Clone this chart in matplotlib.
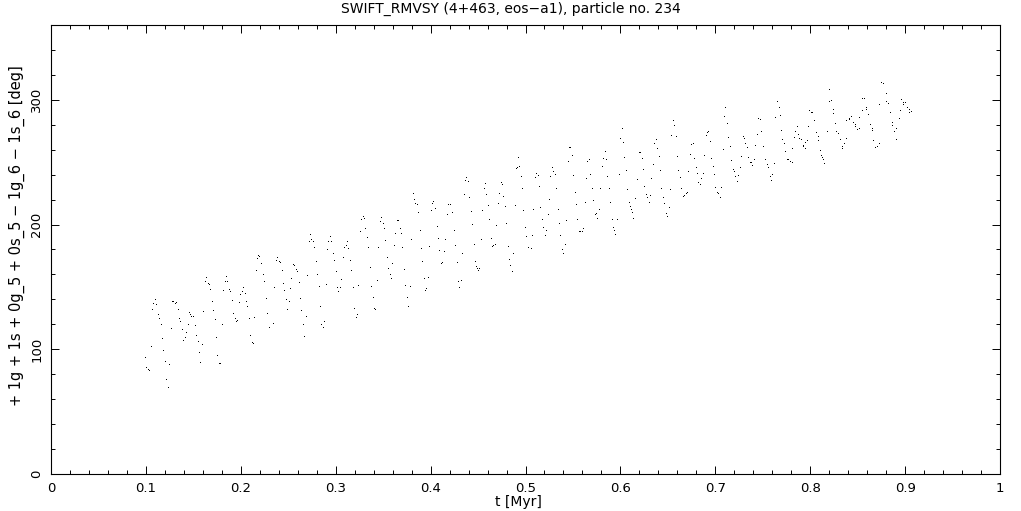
import matplotlib

matplotlib.use("Agg")
import matplotlib.pyplot as plt
from matplotlib.ticker import MultipleLocator

TITLE = "SWIFT_RMVSY (4+463, eos\u2212a1), particle no. 234"
X_LABEL = "t [Myr]"
Y_LABEL = "+ 1g + 1s + 0g_5 + 0s_5 \u2212 1g_6 \u2212 1s_6 [deg]"

X_TICKS = [0, 0.1, 0.2, 0.3, 0.4, 0.5, 0.6, 0.7, 0.8, 0.9, 1.0]
X_TICK_LABELS = ["0", "0.1", "0.2", "0.3", "0.4", "0.5", "0.6", "0.7", "0.8", "0.9", "1"]
Y_TICKS = [0, 100, 200, 300]
Y_TICK_LABELS = ["0", "100", "200", "300"]

# time [Myr] and resonant angle [deg]
t_myr = [
    0.0988, 0.1002, 0.1019, 0.1030, 0.1055, 0.1065, 0.1076, 0.1097, 0.1107, 0.1128,
    0.1139, 0.1160, 0.1171, 0.1181, 0.1202, 0.1213, 0.1234, 0.1244, 0.1265, 0.1276,
    0.1290, 0.1308, 0.1318, 0.1339, 0.1350, 0.1360, 0.1381, 0.1392, 0.1413, 0.1424,
    0.1445, 0.1455, 0.1466, 0.1480, 0.1497, 0.1518, 0.1529, 0.1550, 0.1561, 0.1571,
    0.1592, 0.1603, 0.1624, 0.1638, 0.1656, 0.1666, 0.1677, 0.1698, 0.1708, 0.1729,
    0.1740, 0.1750, 0.1772, 0.1782, 0.1803, 0.1814, 0.1835, 0.1845, 0.1856, 0.1877,
    0.1888, 0.1909, 0.1919, 0.1940, 0.1951, 0.1961, 0.1982, 0.1993, 0.2014, 0.2025,
    0.2046, 0.2056, 0.2067, 0.2088, 0.2098, 0.2120, 0.2130, 0.2141, 0.2162, 0.2172,
    0.2183, 0.2193, 0.2214, 0.2236, 0.2246, 0.2267, 0.2278, 0.2299,
    0.2341, 0.2351, 0.2372, 0.2383, 0.2404, 0.2415, 0.2436, 0.2446, 0.2457, 0.2478,
    0.2488, 0.2510, 0.2520, 0.2531, 0.2552, 0.2562, 0.2583, 0.2594, 0.2615, 0.2626,
    0.2636, 0.2657, 0.2668, 0.2689, 0.2699, 0.2720, 0.2731, 0.2741, 0.2763, 0.2773,
    0.2794, 0.2805, 0.2826, 0.2836, 0.2847, 0.2868, 0.2879, 0.2900, 0.2910, 0.2921,
    0.2942, 0.2952, 0.2973, 0.2984, 0.3005, 0.3016, 0.3026, 0.3047, 0.3058, 0.3079,
    0.3089, 0.3110, 0.3121, 0.3132, 0.3153, 0.3163, 0.3184, 0.3195, 0.3216, 0.3226,
    0.3237, 0.3258, 0.3269, 0.3290, 0.3300, 0.3311, 0.3332, 0.3342, 0.3363, 0.3374,
    0.3395, 0.3406, 0.3416, 0.3437, 0.3448, 0.3469, 0.3479, 0.3500, 0.3511, 0.3522,
    0.3543, 0.3553, 0.3574, 0.3585, 0.3595, 0.3617,
    0.3627, 0.3648, 0.3659, 0.3680, 0.3690, 0.3701, 0.3722, 0.3733, 0.3754, 0.3764,
    0.3785, 0.3796, 0.3817, 0.3828, 0.3838, 0.3859, 0.3870, 0.3891, 0.3901, 0.3912,
    0.3933, 0.3944, 0.3954, 0.3975, 0.3986, 0.4007, 0.4017, 0.4028, 0.4049, 0.4070,
    0.4081, 0.4091, 0.4112, 0.4123, 0.4144, 0.4154, 0.4175, 0.4186, 0.4207, 0.4228,
    0.4249, 0.4260, 0.4281, 0.4291, 0.4302, 0.4323, 0.4334, 0.4355, 0.4365, 0.4376,
    0.4397, 0.4407, 0.4428, 0.4439, 0.4460, 0.4471, 0.4481, 0.4492, 0.4502, 0.4513,
    0.4534, 0.4544, 0.4565, 0.4576, 0.4587, 0.4608, 0.4618, 0.4639, 0.4650, 0.4660,
    0.4681, 0.4692, 0.4713, 0.4724, 0.4745, 0.4755, 0.4766, 0.4787, 0.4797, 0.4818,
    0.4829, 0.4840, 0.4861, 0.4871, 0.4892, 0.4903, 0.4913,
    0.4924, 0.4935, 0.4956, 0.4966, 0.4977, 0.4998, 0.5008, 0.5030, 0.5061, 0.5072,
    0.5082, 0.5103, 0.5114, 0.5135, 0.5146, 0.5156, 0.5177, 0.5188, 0.5209, 0.5219,
    0.5240, 0.5251, 0.5261, 0.5283, 0.5293, 0.5314, 0.5325, 0.5346, 0.5356, 0.5367,
    0.5388, 0.5399, 0.5420, 0.5430, 0.5451, 0.5462, 0.5472, 0.5493, 0.5504, 0.5525,
    0.5536, 0.5546, 0.5567, 0.5578, 0.5599, 0.5609, 0.5630, 0.5641, 0.5652, 0.5673,
    0.5683, 0.5704, 0.5715, 0.5736, 0.5746, 0.5757, 0.5778, 0.5789, 0.5810, 0.5820,
    0.5841, 0.5852, 0.5862, 0.5883, 0.5894, 0.5915, 0.5926, 0.5936, 0.5947, 0.5968,
    0.5989, 0.5999, 0.6020, 0.6031, 0.6042, 0.6063, 0.6073, 0.6094, 0.6105, 0.6115,
    0.6126, 0.6136, 0.6158, 0.6179, 0.6200, 0.6210, 0.6231, 0.6242, 0.6252,
    0.6274, 0.6284, 0.6305, 0.6316, 0.6326, 0.6348, 0.6358, 0.6379, 0.6390, 0.6411,
    0.6421, 0.6432, 0.6453, 0.6464, 0.6485, 0.6495, 0.6516, 0.6527, 0.6537, 0.6558,
    0.6569, 0.6590, 0.6601, 0.6611, 0.6632, 0.6643, 0.6664, 0.6674, 0.6695, 0.6706,
    0.6717, 0.6738, 0.6748, 0.6769, 0.6780, 0.6801, 0.6811, 0.6822, 0.6843, 0.6854,
    0.6875, 0.6885, 0.6906, 0.6917, 0.6927, 0.6948, 0.6959, 0.6980, 0.6991, 0.7001,
    0.7022, 0.7033, 0.7054, 0.7064, 0.7086, 0.7096, 0.7107, 0.7128, 0.7138, 0.7159,
    0.7170, 0.7191, 0.7201, 0.7212, 0.7233, 0.7244, 0.7265, 0.7275, 0.7296, 0.7307,
    0.7317, 0.7339, 0.7349, 0.7370, 0.7381, 0.7391, 0.7412, 0.7423, 0.7444, 0.7454,
    0.7476, 0.7486, 0.7507, 0.7528, 0.7549, 0.7560,
    0.7581, 0.7592, 0.7602, 0.7623, 0.7634, 0.7655, 0.7666, 0.7687, 0.7697, 0.7708,
    0.7729, 0.7739, 0.7760, 0.7771, 0.7782, 0.7803, 0.7813, 0.7834, 0.7845, 0.7866,
    0.7876, 0.7887, 0.7908, 0.7919, 0.7929, 0.7940, 0.7950, 0.7971, 0.7982, 0.7992,
    0.8013, 0.8024, 0.8045, 0.8056, 0.8077, 0.8087, 0.8098, 0.8119, 0.8129, 0.8140,
    0.8150, 0.8172, 0.8193, 0.8203, 0.8224, 0.8235, 0.8245, 0.8266, 0.8277, 0.8298,
    0.8309, 0.8330, 0.8340, 0.8361, 0.8372, 0.8382, 0.8404, 0.8414, 0.8435, 0.8446,
    0.8467, 0.8477, 0.8488, 0.8509, 0.8519, 0.8541, 0.8551, 0.8562, 0.8583, 0.8593,
    0.8614, 0.8625, 0.8646, 0.8656, 0.8667, 0.8688, 0.8699, 0.8720, 0.8730, 0.8751,
    0.8772, 0.8794, 0.8804, 0.8825, 0.8836, 0.8857, 0.8867, 0.8878, 0.8899, 0.8909,
    0.8931, 0.8941, 0.8952, 0.8973, 0.8983, 0.9004, 0.9015, 0.9036, 0.9046, 0.9057,
]

angle_deg = [
    92.8, 84.8, 83.4, 82.6, 101.6, 131.5, 136.1, 139.5, 135.5, 127.5,
    124.0, 119.2, 108.0, 98.7, 89.6, 75.4, 69.0, 87.2, 116.0, 137.7,
    137.7, 136.3, 137.1, 131.5, 124.0, 121.6, 115.2, 106.4, 108.8, 112.8,
    119.2, 128.9, 127.5, 125.7, 125.7, 118.7, 110.7, 105.6, 96.8, 88.8,
    103.2, 129.7, 153.7, 156.9, 152.1, 151.3, 147.3, 137.7, 130.5, 123.2,
    108.8, 94.4, 88.0, 88.0, 119.5, 146.5, 153.7, 158.0, 153.7, 147.3,
    145.7, 138.5, 128.1, 124.0, 121.6, 122.4, 136.9, 143.3, 145.7, 148.9,
    144.1, 137.7, 133.7, 124.0, 110.4, 104.8, 104.0, 124.9, 162.5, 172.0,
    175.0, 174.0, 168.0, 159.3, 153.7, 140.1, 128.1, 116.8,
    120.1, 149.2, 170.6, 173.0, 169.8, 169.0, 162.5, 152.1, 146.5, 139.3,
    131.3, 137.7, 148.1, 156.1, 167.4, 166.6, 163.3, 161.7, 152.9, 140.1,
    130.5, 119.5, 109.6, 125.7, 158.5, 185.8, 191.4, 187.4, 185.8, 181.0,
    169.8, 159.3, 149.7, 133.7, 119.5, 116.8, 121.7, 151.3, 179.4, 185.8,
    189.8, 185.8, 176.2, 170.6, 161.7, 148.9, 145.7, 148.9, 155.3, 173.0,
    181.0, 182.6, 185.8, 180.2, 170.6, 162.5, 148.9, 132.1, 124.9, 127.3,
    150.5, 193.8, 203.4, 205.8, 204.2, 196.2, 189.0, 181.0, 165.0, 149.7,
    140.9, 132.1, 131.3, 154.5, 181.0, 201.8, 205.0, 200.2, 196.2, 186.6,
    173.0, 164.1, 159.3, 156.1, 168.2, 182.6,
    192.2, 202.6, 202.6, 196.2, 192.2, 181.0, 163.4, 150.5, 141.4, 133.6,
    149.7, 187.4, 224.3, 219.5, 216.3, 215.5, 209.1, 194.6, 180.2, 169.8,
    156.2, 146.5, 148.1, 157.0, 181.8, 210.7, 216.3, 217.9, 212.3, 197.8,
    188.2, 178.6, 168.2, 169.0, 177.8, 187.4, 207.5, 215.5, 215.5, 209.1,
    194.6, 182.6, 169.0, 153.7, 148.9, 154.5, 176.2, 223.5, 234.7, 237.1,
    233.9, 221.1, 209.9, 199.4, 183.4, 169.8, 165.8, 164.2, 162.6, 164.2,
    187.4, 210.7, 228.3, 232.3, 223.5, 214.7, 203.4, 188.2, 181.8, 182.6,
    183.4, 198.6, 216.3, 224.3, 233.1, 231.5, 221.9, 213.9, 200.2, 181.8,
    171.4, 166.6, 161.8, 176.2, 214.7, 244.3, 245.1,
    253.1, 245.9, 237.8, 228.2, 210.6, 197.0, 189.8, 180.9, 180.1, 190.6,
    211.4, 237.0, 240.3, 238.7, 229.8, 213.0, 203.4, 197.0, 190.6, 194.6,
    207.4, 219.4, 237.8, 245.1, 241.9, 239.5, 228.2, 211.4, 200.2, 190.6,
    179.3, 176.1, 183.3, 202.6, 249.9, 261.1, 261.1, 254.7, 238.7, 225.0,
    215.4, 203.4, 193.8, 193.8, 193.8, 196.2, 217.0, 236.2, 249.9, 251.5,
    239.5, 228.2, 218.6, 207.4, 208.2, 204.2, 211.4, 228.2, 245.9, 252.3,
    257.9, 251.5, 237.8, 228.2, 217.0, 203.4, 197.0, 194.6, 191.4, 203.4,
    239.5, 268.3, 276.3, 265.1, 253.1, 242.7, 227.4, 217.0, 213.8, 211.4,
    209.0, 204.2, 220.2, 235.4, 257.1, 257.1, 252.3, 243.5, 229.8,
    223.5, 221.1, 217.1, 222.7, 236.3, 247.5, 264.3, 267.6, 260.3, 253.9,
    242.7, 228.3, 221.1, 216.3, 208.2, 205.8, 213.0, 227.5, 270.8, 282.8,
    278.8, 270.0, 253.9, 242.7, 237.1, 228.3, 221.9, 222.7, 224.3, 225.1,
    241.9, 255.5, 263.5, 264.4, 252.3, 245.1, 240.3, 233.1, 231.5, 236.3,
    240.3, 254.7, 270.8, 273.2, 274.0, 266.0, 252.3, 245.9, 239.5, 229.1,
    225.1, 224.3, 221.1, 229.1, 259.5, 286.0, 293.2, 280.4, 269.2, 262.0,
    250.7, 243.5, 241.9, 237.9, 233.9, 238.7, 245.1, 253.9, 270.0, 268.4,
    264.4, 261.1, 253.1, 249.1, 249.1, 246.7, 251.9, 262.7, 271.6, 284.4,
    283.6, 274.0, 262.0, 251.5, 247.5, 245.1,
    237.9, 234.7, 239.5, 248.3, 285.2, 298.0, 293.2, 286.8, 274.7, 267.5,
    264.3, 257.9, 251.5, 251.5, 249.9, 249.1, 260.3, 269.1, 273.9, 277.9,
    271.5, 268.3, 267.5, 262.7, 261.9, 260.3, 265.1, 266.7, 277.9, 290.8,
    289.2, 289.2, 282.8, 273.1, 269.9, 266.7, 258.7, 254.7, 253.1, 251.5,
    248.3, 273.9, 298.0, 307.6, 298.8, 291.6, 288.4, 280.3, 273.9, 272.3,
    267.5, 260.3, 261.9, 264.3, 268.3, 282.8, 283.6, 284.4, 286.0, 281.2,
    279.5, 277.9, 275.5, 276.3, 285.2, 290.8, 300.4, 300.4, 293.2, 291.6,
    287.6, 279.5, 276.3, 274.7, 266.7, 261.1, 261.9, 264.3, 295.6, 313.2,
    312.4, 304.4, 298.0, 296.4, 289.2, 281.2, 278.7, 273.9, 267.5, 276.3,
    284.4, 290.8, 299.6, 297.2, 295.6, 297.2, 293.2, 289.2, 291.6, 289.9,
]

W, H = 1021, 511
fig = plt.figure(figsize=(W / 100, H / 100), dpi=100)
ax = fig.add_axes([51 / W, 37 / H, 949 / W, 449 / H])

ax.plot(t_myr, angle_deg, linestyle="none", marker=",", color="black")

ax.set_xlim(0, 1)
ax.set_ylim(0, 360)
ax.set_xticks(X_TICKS)
ax.set_xticklabels(X_TICK_LABELS)
ax.set_yticks(Y_TICKS)
ax.set_yticklabels(Y_TICK_LABELS, rotation=90, va="center")
ax.xaxis.set_minor_locator(MultipleLocator(0.02))
ax.yaxis.set_minor_locator(MultipleLocator(20))

ax.tick_params(which="both", direction="in", top=True, right=True, width=0.7,
               labelsize=9.5, colors="black")
ax.tick_params(which="major", length=5.5)
ax.tick_params(which="minor", length=2.8)
ax.tick_params(axis="x", which="major", pad=5.5)
ax.tick_params(axis="y", which="major", pad=5.5)
for sp in ax.spines.values():
    sp.set_linewidth(0.8)

fig.text(511 / W, 1 - 9 / H, TITLE, ha="center", va="center", fontsize=10)
fig.text(518 / W, 1 - 502 / H, X_LABEL, ha="center", va="center", fontsize=10)
fig.text(17 / W, 1 - 236 / H, Y_LABEL, ha="center", va="center", rotation=90,
         fontsize=10.5)

fig.savefig("out.png", dpi=100)
